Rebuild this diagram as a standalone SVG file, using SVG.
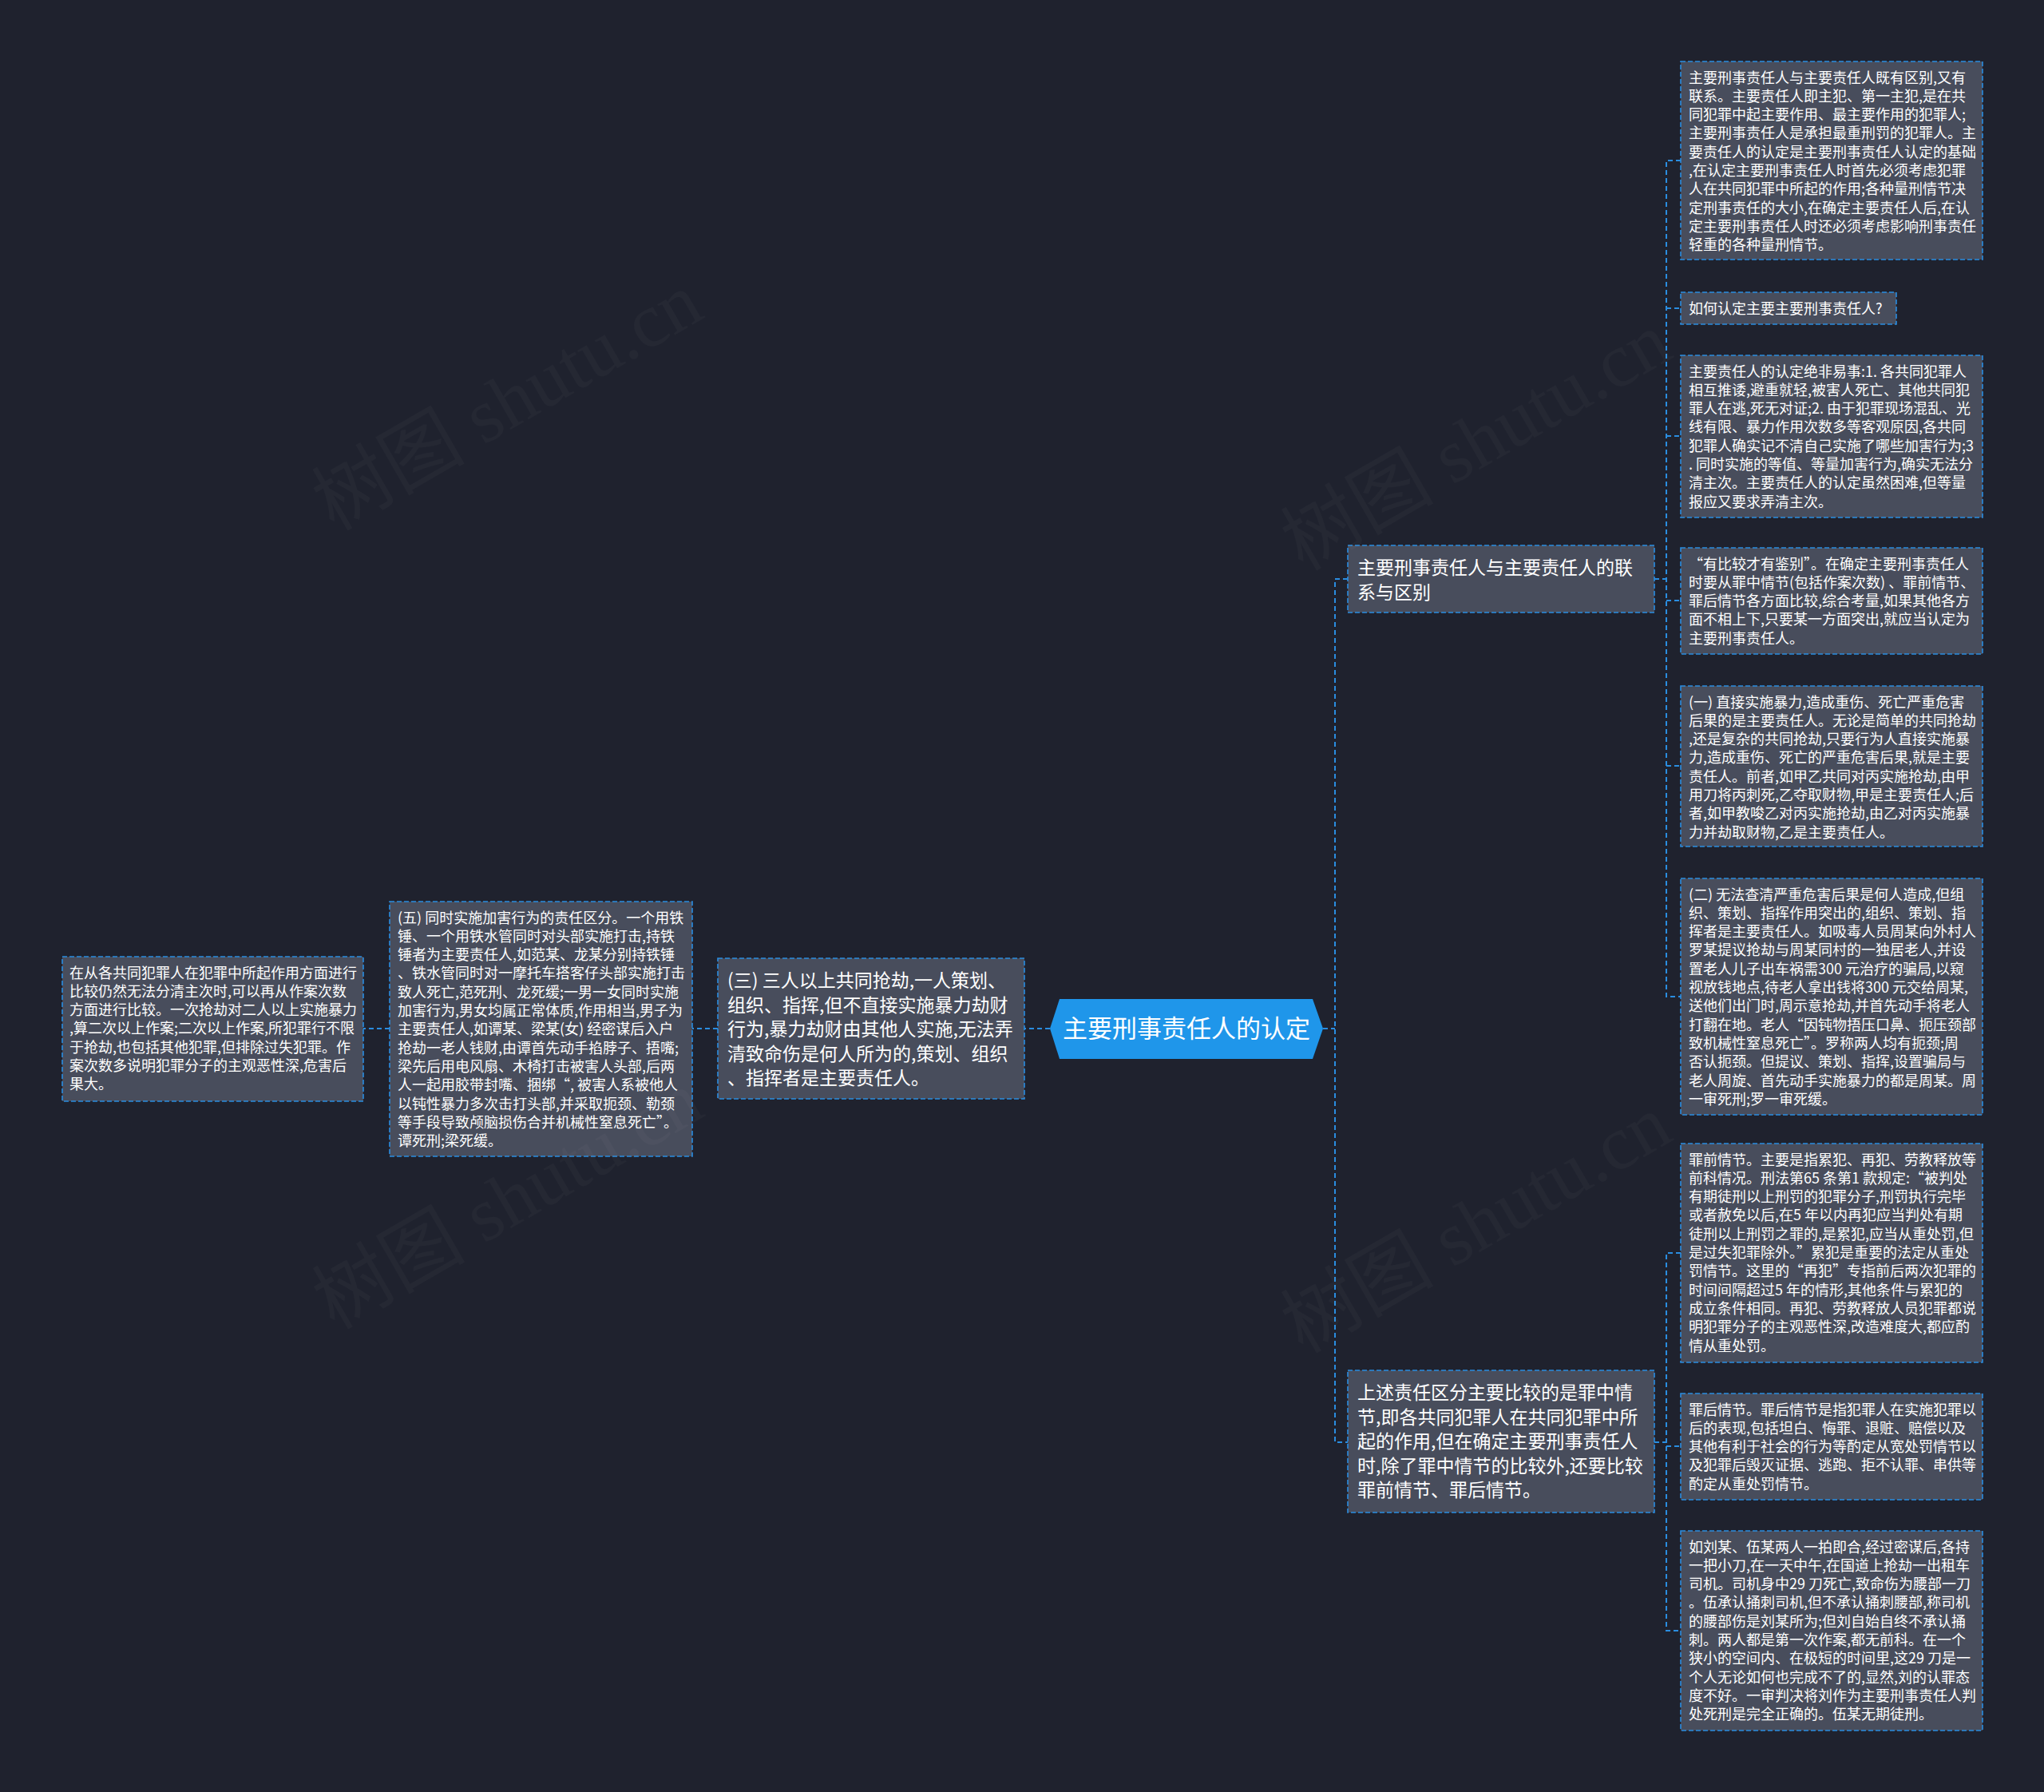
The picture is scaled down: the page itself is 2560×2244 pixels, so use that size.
<svg xmlns="http://www.w3.org/2000/svg" width="2560" height="2244" viewBox="0 0 2560 2244">
<style>
.box{fill:#484d5c;stroke:#2a8de0;stroke-width:1.6;stroke-dasharray:6 3}
.conn{fill:none;stroke:#2a8de0;stroke-width:2;stroke-dasharray:6 4}
text{font-family:"Noto Sans CJK SC","Microsoft YaHei",sans-serif;fill:#ffffff}
.s{font-size:18px}
.m{font-size:23px}
.c{font-size:31px}
text.wm{font-family:"Liberation Serif","Noto Sans CJK SC",serif;font-size:96px;fill:#ffffff;opacity:0.022}
</style>
<rect x="0" y="0" width="2560" height="2244" fill="#1f222e"/>

<g id="connectors">
<path class="conn" d="M1315,1288 H1283"/>
<path class="conn" d="M899,1288 H867"/>
<path class="conn" d="M488,1288 H455"/>
<path class="conn" d="M1657,1288 H1672"/>
<path class="conn" d="M1688,725 H1672 V1806 H1688"/>
<path class="conn" d="M2072,725 H2087"/>
<path class="conn" d="M2105,201 H2087 V1248 H2105"/>
<path class="conn" d="M2087,386 H2105"/>
<path class="conn" d="M2087,546 H2105"/>
<path class="conn" d="M2087,752 H2105"/>
<path class="conn" d="M2087,959 H2105"/>
<path class="conn" d="M2072,1806 H2087"/>
<path class="conn" d="M2105,1569 H2087 V2042 H2105"/>
<path class="conn" d="M2087,1811 H2105"/>
</g>

<g id="center">
<polygon points="1315,1288 1327,1251 1644,1251 1657,1288 1644,1326 1327,1326" fill="#1f96ea"/>
<text class="c" x="1486" y="1299" text-anchor="middle">主要刑事责任人的认定</text>
</g>

<g id="nodeA">
<rect class="box" x="1688" y="683" width="384" height="84"/>
<text class="m" x="1700" y="719.3"><tspan x="1700">主要刑事责任人与主要责任人的联</tspan><tspan x="1700" dy="30.5">系与区别</tspan></text>
</g>

<g id="nodeB">
<rect class="box" x="1688" y="1716" width="384" height="178"/>
<text class="m" x="1700" y="1752.3"><tspan x="1700">上述责任区分主要比较的是罪中情</tspan><tspan x="1700" dy="30.5">节,即各共同犯罪人在共同犯罪中所</tspan><tspan x="1700" dy="30.5">起的作用,但在确定主要刑事责任人</tspan><tspan x="1700" dy="30.5">时,除了罪中情节的比较外,还要比较</tspan><tspan x="1700" dy="30.5">罪前情节、罪后情节。</tspan></text>
</g>

<g id="node3">
<rect class="box" x="899" y="1200" width="384" height="176"/>
<text class="m" x="911" y="1236.3"><tspan x="911">(三) 三人以上共同抢劫,一人策划、</tspan><tspan x="911" dy="30.5">组织、指挥,但不直接实施暴力劫财</tspan><tspan x="911" dy="30.5">行为,暴力劫财由其他人实施,无法弄</tspan><tspan x="911" dy="30.5">清致命伤是何人所为的,策划、组织</tspan><tspan x="911" dy="30.5">、指挥者是主要责任人。</tspan></text>
</g>

<g id="node5">
<rect class="box" x="488" y="1129" width="379" height="319"/>
<text class="s" x="498" y="1155.5"><tspan x="498">(五) 同时实施加害行为的责任区分。一个用铁</tspan><tspan x="498" dy="23.3">锤、一个用铁水管同时对头部实施打击,持铁</tspan><tspan x="498" dy="23.3">锤者为主要责任人,如范某、龙某分别持铁锤</tspan><tspan x="498" dy="23.3">、铁水管同时对一摩托车搭客仔头部实施打击</tspan><tspan x="498" dy="23.3">致人死亡,范死刑、龙死缓;一男一女同时实施</tspan><tspan x="498" dy="23.3">加害行为,男女均属正常体质,作用相当,男子为</tspan><tspan x="498" dy="23.3">主要责任人,如谭某、梁某(女) 经密谋后入户</tspan><tspan x="498" dy="23.3">抢劫一老人钱财,由谭首先动手掐脖子、捂嘴;</tspan><tspan x="498" dy="23.3">梁先后用电风扇、木椅打击被害人头部,后两</tspan><tspan x="498" dy="23.3">人一起用胶带封嘴、捆绑“, 被害人系被他人</tspan><tspan x="498" dy="23.3">以钝性暴力多次击打头部,并采取扼颈、勒颈</tspan><tspan x="498" dy="23.3">等手段导致颅脑损伤合并机械性窒息死亡”。</tspan><tspan x="498" dy="23.3">谭死刑;梁死缓。</tspan></text>
</g>

<g id="nodeLeft">
<rect class="box" x="78" y="1198" width="377" height="181"/>
<text class="s" x="87" y="1224.5"><tspan x="87">在从各共同犯罪人在犯罪中所起作用方面进行</tspan><tspan x="87" dy="23.3">比较仍然无法分清主次时,可以再从作案次数</tspan><tspan x="87" dy="23.3">方面进行比较。一次抢劫对二人以上实施暴力</tspan><tspan x="87" dy="23.3">,算二次以上作案;二次以上作案,所犯罪行不限</tspan><tspan x="87" dy="23.3">于抢劫,也包括其他犯罪,但排除过失犯罪。作</tspan><tspan x="87" dy="23.3">案次数多说明犯罪分子的主观恶性深,危害后</tspan><tspan x="87" dy="23.3">果大。</tspan></text>
</g>

<g id="r1">
<rect class="box" x="2105" y="77" width="378" height="248"/>
<text class="s" x="2115" y="103.5"><tspan x="2115">主要刑事责任人与主要责任人既有区别,又有</tspan><tspan x="2115" dy="23.3">联系。主要责任人即主犯、第一主犯,是在共</tspan><tspan x="2115" dy="23.3">同犯罪中起主要作用、最主要作用的犯罪人;</tspan><tspan x="2115" dy="23.3">主要刑事责任人是承担最重刑罚的犯罪人。主</tspan><tspan x="2115" dy="23.3">要责任人的认定是主要刑事责任人认定的基础</tspan><tspan x="2115" dy="23.3">,在认定主要刑事责任人时首先必须考虑犯罪</tspan><tspan x="2115" dy="23.3">人在共同犯罪中所起的作用;各种量刑情节决</tspan><tspan x="2115" dy="23.3">定刑事责任的大小,在确定主要责任人后,在认</tspan><tspan x="2115" dy="23.3">定主要刑事责任人时还必须考虑影响刑事责任</tspan><tspan x="2115" dy="23.3">轻重的各种量刑情节。</tspan></text>
</g>

<g id="r2">
<rect class="box" x="2105" y="366" width="270" height="40"/>
<text class="s" x="2115" y="392.5">如何认定主要主要刑事责任人?</text>
</g>

<g id="r3">
<rect class="box" x="2105" y="445" width="378" height="203"/>
<text class="s" x="2115" y="471.5"><tspan x="2115">主要责任人的认定绝非易事:1. 各共同犯罪人</tspan><tspan x="2115" dy="23.3">相互推诿,避重就轻,被害人死亡、其他共同犯</tspan><tspan x="2115" dy="23.3">罪人在逃,死无对证;2. 由于犯罪现场混乱、光</tspan><tspan x="2115" dy="23.3">线有限、暴力作用次数多等客观原因,各共同</tspan><tspan x="2115" dy="23.3">犯罪人确实记不清自己实施了哪些加害行为;3</tspan><tspan x="2115" dy="23.3">. 同时实施的等值、等量加害行为,确实无法分</tspan><tspan x="2115" dy="23.3">清主次。主要责任人的认定虽然困难,但等量</tspan><tspan x="2115" dy="23.3">报应又要求弄清主次。</tspan></text>
</g>

<g id="r4">
<rect class="box" x="2105" y="686" width="378" height="133"/>
<text class="s" x="2115" y="712.5"><tspan x="2115">“有比较才有鉴别”。在确定主要刑事责任人</tspan><tspan x="2115" dy="23.3">时要从罪中情节(包括作案次数) 、罪前情节、</tspan><tspan x="2115" dy="23.3">罪后情节各方面比较,综合考量,如果其他各方</tspan><tspan x="2115" dy="23.3">面不相上下,只要某一方面突出,就应当认定为</tspan><tspan x="2115" dy="23.3">主要刑事责任人。</tspan></text>
</g>

<g id="r5">
<rect class="box" x="2105" y="859" width="378" height="201"/>
<text class="s" x="2115" y="885.5"><tspan x="2115">(一) 直接实施暴力,造成重伤、死亡严重危害</tspan><tspan x="2115" dy="23.3">后果的是主要责任人。无论是简单的共同抢劫</tspan><tspan x="2115" dy="23.3">,还是复杂的共同抢劫,只要行为人直接实施暴</tspan><tspan x="2115" dy="23.3">力,造成重伤、死亡的严重危害后果,就是主要</tspan><tspan x="2115" dy="23.3">责任人。前者,如甲乙共同对丙实施抢劫,由甲</tspan><tspan x="2115" dy="23.3">用刀将丙刺死,乙夺取财物,甲是主要责任人;后</tspan><tspan x="2115" dy="23.3">者,如甲教唆乙对丙实施抢劫,由乙对丙实施暴</tspan><tspan x="2115" dy="23.3">力并劫取财物,乙是主要责任人。</tspan></text>
</g>

<g id="r6">
<rect class="box" x="2105" y="1100" width="378" height="296"/>
<text class="s" x="2115" y="1126.5"><tspan x="2115">(二) 无法查清严重危害后果是何人造成,但组</tspan><tspan x="2115" dy="23.3">织、策划、指挥作用突出的,组织、策划、指</tspan><tspan x="2115" dy="23.3">挥者是主要责任人。如吸毒人员周某向外村人</tspan><tspan x="2115" dy="23.3">罗某提议抢劫与周某同村的一独居老人,并设</tspan><tspan x="2115" dy="23.3">置老人儿子出车祸需300 元治疗的骗局,以窥</tspan><tspan x="2115" dy="23.3">视放钱地点,待老人拿出钱将300 元交给周某,</tspan><tspan x="2115" dy="23.3">送他们出门时,周示意抢劫,并首先动手将老人</tspan><tspan x="2115" dy="23.3">打翻在地。老人“因钝物捂压口鼻、扼压颈部</tspan><tspan x="2115" dy="23.3">致机械性窒息死亡”。罗称两人均有扼颈;周</tspan><tspan x="2115" dy="23.3">否认扼颈。但提议、策划、指挥,设置骗局与</tspan><tspan x="2115" dy="23.3">老人周旋、首先动手实施暴力的都是周某。周</tspan><tspan x="2115" dy="23.3">一审死刑;罗一审死缓。</tspan></text>
</g>

<g id="r7">
<rect class="box" x="2105" y="1432" width="378" height="274"/>
<text class="s" x="2115" y="1458.5"><tspan x="2115">罪前情节。主要是指累犯、再犯、劳教释放等</tspan><tspan x="2115" dy="23.3">前科情况。刑法第65 条第1 款规定:“被判处</tspan><tspan x="2115" dy="23.3">有期徒刑以上刑罚的犯罪分子,刑罚执行完毕</tspan><tspan x="2115" dy="23.3">或者赦免以后,在5 年以内再犯应当判处有期</tspan><tspan x="2115" dy="23.3">徒刑以上刑罚之罪的,是累犯,应当从重处罚,但</tspan><tspan x="2115" dy="23.3">是过失犯罪除外。”累犯是重要的法定从重处</tspan><tspan x="2115" dy="23.3">罚情节。这里的“再犯”专指前后两次犯罪的</tspan><tspan x="2115" dy="23.3">时间间隔超过5 年的情形,其他条件与累犯的</tspan><tspan x="2115" dy="23.3">成立条件相同。再犯、劳教释放人员犯罪都说</tspan><tspan x="2115" dy="23.3">明犯罪分子的主观恶性深,改造难度大,都应酌</tspan><tspan x="2115" dy="23.3">情从重处罚。</tspan></text>
</g>

<g id="r8">
<rect class="box" x="2105" y="1745" width="378" height="133"/>
<text class="s" x="2115" y="1771.5"><tspan x="2115">罪后情节。罪后情节是指犯罪人在实施犯罪以</tspan><tspan x="2115" dy="23.3">后的表现,包括坦白、悔罪、退赃、赔偿以及</tspan><tspan x="2115" dy="23.3">其他有利于社会的行为等酌定从宽处罚情节以</tspan><tspan x="2115" dy="23.3">及犯罪后毁灭证据、逃跑、拒不认罪、串供等</tspan><tspan x="2115" dy="23.3">酌定从重处罚情节。</tspan></text>
</g>

<g id="r9">
<rect class="box" x="2105" y="1917" width="378" height="250"/>
<text class="s" x="2115" y="1943.5"><tspan x="2115">如刘某、伍某两人一拍即合,经过密谋后,各持</tspan><tspan x="2115" dy="23.3">一把小刀,在一天中午,在国道上抢劫一出租车</tspan><tspan x="2115" dy="23.3">司机。司机身中29 刀死亡,致命伤为腰部一刀</tspan><tspan x="2115" dy="23.3">。伍承认捅刺司机,但不承认捅刺腰部,称司机</tspan><tspan x="2115" dy="23.3">的腰部伤是刘某所为;但刘自始自终不承认捅</tspan><tspan x="2115" dy="23.3">刺。两人都是第一次作案,都无前科。在一个</tspan><tspan x="2115" dy="23.3">狭小的空间内、在极短的时间里,这29 刀是一</tspan><tspan x="2115" dy="23.3">个人无论如何也完成不了的,显然,刘的认罪态</tspan><tspan x="2115" dy="23.3">度不好。一审判决将刘作为主要刑事责任人判</tspan><tspan x="2115" dy="23.3">处死刑是完全正确的。伍某无期徒刑。</tspan></text>
</g>

<g id="watermarks">
<text class="wm" x="637" y="535" text-anchor="middle" transform="rotate(-30 637 506)">树图 shutu.cn</text>
<text class="wm" x="1850" y="585" text-anchor="middle" transform="rotate(-30 1850 555)">树图 shutu.cn</text>
<text class="wm" x="637" y="1535" text-anchor="middle" transform="rotate(-30 637 1505)">树图 shutu.cn</text>
<text class="wm" x="1850" y="1565" text-anchor="middle" transform="rotate(-30 1850 1535)">树图 shutu.cn</text>
</g>
</svg>
